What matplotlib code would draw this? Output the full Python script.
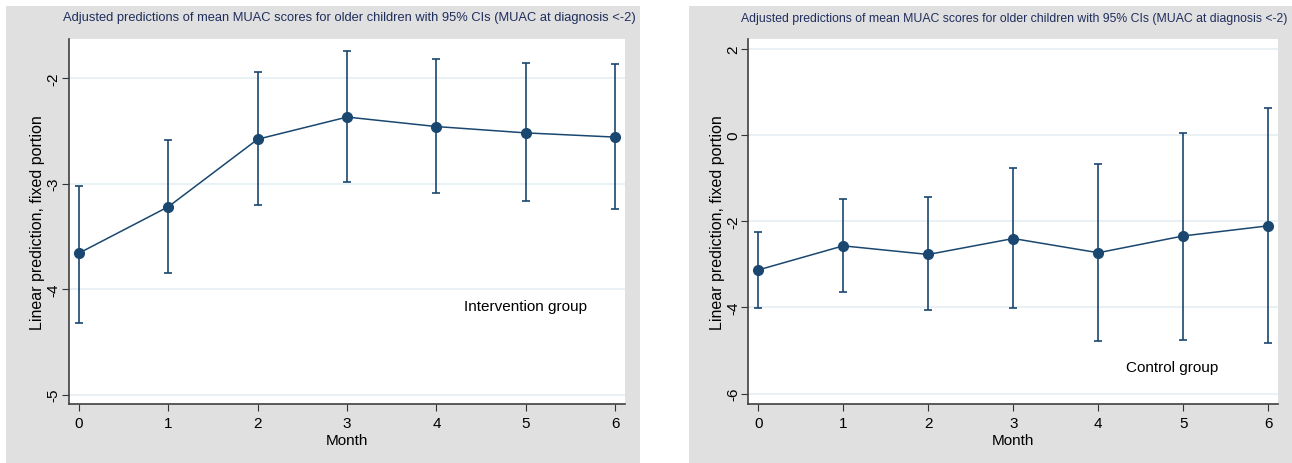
#=========================================================================
# muac-predictions.py
#=========================================================================

import matplotlib
matplotlib.use('Agg')
import matplotlib.pyplot as plt
from matplotlib.patches import Rectangle

#-------------------------------------------------------------------------
# Configure matplotlib
#-------------------------------------------------------------------------

plt.rcParams['font.family'] = ['Liberation Sans', 'DejaVu Sans']
plt.rcParams['font.size']   = 10

#-------------------------------------------------------------------------
# Raw data
#-------------------------------------------------------------------------

months = [0, 1, 2, 3, 4, 5, 6]

title = ('Adjusted predictions of mean MUAC scores for older children '
         'with 95% CIs (MUAC at diagnosis <-2)')

# Intervention group

int_mean  = [-3.66, -3.22, -2.58, -2.37, -2.46, -2.52, -2.56]
int_upper = [-3.02, -2.585, -1.946, -1.74, -1.82, -1.86, -1.865]
int_lower = [-4.32, -3.85, -3.20, -2.99, -3.09, -3.17, -3.24]

# Control group

ctl_mean  = [-3.13, -2.57, -2.77, -2.40, -2.73, -2.34, -2.105]
ctl_upper = [-2.245, -1.49, -1.445, -0.77, -0.676, 0.055, 0.63]
ctl_lower = [-4.02, -3.63, -4.07, -4.02, -4.77, -4.75, -4.83]

int_yticks = [-2, -3, -4, -5]
ctl_yticks = [2, 0, -2, -4, -6]

#-------------------------------------------------------------------------
# Plot parameters
#-------------------------------------------------------------------------

W, H = 1292.0, 464.0

navy      = '#1a476f'
title_col = '#1f2d5c'
bg_gray   = '#e0e0e0'
grid_col  = '#e5eff2'

#-------------------------------------------------------------------------
# Helper functions
#-------------------------------------------------------------------------

def draw_panel( ax, mean, lower, upper, yticks, ylim, label, label_xy ):
  yerr = [ [ m - l for m, l in zip( mean, lower ) ],
           [ u - m for m, u in zip( mean, upper ) ] ]
  ax.errorbar( months, mean, yerr=yerr, color=navy, ecolor=navy,
               elinewidth=1.2, capsize=3, capthick=1.2, linewidth=1.1,
               marker='o', markersize=7, zorder=3, clip_on=False )

  ax.set_xlim( -0.115, 6.11 )
  ax.set_ylim( *ylim )
  ax.set_xticks( months )
  ax.set_yticks( yticks )
  ax.set_yticklabels( [ str(t) for t in yticks ], rotation=90, va='center' )
  ax.tick_params( axis='both', direction='out', length=5, width=0.8,
                  labelsize=11, color='#333333' )
  ax.tick_params( axis='x', pad=4 )
  ax.tick_params( axis='y', pad=1 )

  ax.yaxis.grid( True, color=grid_col, linewidth=1.2 )
  ax.set_axisbelow( True )

  ax.spines['right'].set_visible( False )
  ax.spines['top'].set_visible( False )
  for s in ['left', 'bottom']:
    ax.spines[s].set_color( '#404040' )
    ax.spines[s].set_linewidth( 1.2 )

  ax.set_xlabel( 'Month', fontsize=11, labelpad=2 )
  ax.set_ylabel( 'Linear prediction, fixed portion', fontsize=11.5,
                 labelpad=1 )

  ax.text( label_xy[0], label_xy[1], label, ha='center', va='center',
           fontsize=11 )

#-------------------------------------------------------------------------
# Create plot
#-------------------------------------------------------------------------

fig = plt.figure( figsize=( W/100, H/100 ), dpi=100 )
fig.patch.set_facecolor( 'white' )

# Gray panel backgrounds

fig.patches.append( Rectangle( ( 6/W, 0 ), 634/W, (H-7)/H,
                               transform=fig.transFigure,
                               facecolor=bg_gray, edgecolor='none', zorder=-5 ) )
fig.patches.append( Rectangle( ( 689/W, 0 ), (W-689)/W, (H-7)/H,
                               transform=fig.transFigure,
                               facecolor=bg_gray, edgecolor='none', zorder=-5 ) )

# Axes

ax1 = fig.add_axes( [ 68.7/W, 1-405/H, (625-68.7)/W, 365/H ] )
ax2 = fig.add_axes( [ 748.4/W, 1-405/H, (1277.7-748.4)/W, 365/H ] )

draw_panel( ax1, int_mean, int_lower, int_upper, int_yticks,
            ( -5.09, -1.63 ), 'Intervention group', ( 5.0, -4.16 ) )
draw_panel( ax2, ctl_mean, ctl_lower, ctl_upper, ctl_yticks,
            ( -6.24, 2.23 ), 'Control group', ( 4.87, -5.38 ) )

# Titles

fig.text( 636/W, 1-18/H, title, ha='right', va='center',
          fontsize=9.28, color=title_col )
fig.text( 1287/W, 1-19/H, title, ha='right', va='center',
          fontsize=8.85, color=title_col )

#-------------------------------------------------------------------------
# Generate PNG
#-------------------------------------------------------------------------

plt.savefig( 'out.png', dpi=100 )
